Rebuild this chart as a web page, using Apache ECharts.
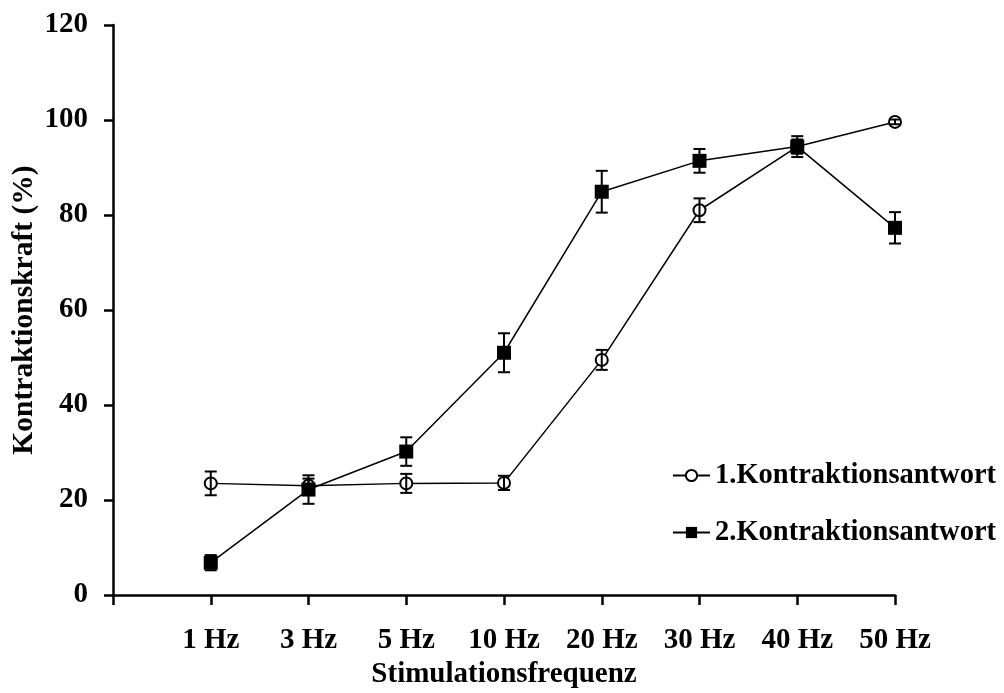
<!DOCTYPE html>
<html>
<head>
<meta charset="utf-8">
<script src="https://cdn.jsdelivr.net/npm/echarts@6/dist/echarts.min.js"></script>
<style>
  html, body { margin: 0; padding: 0; background: #fff; }
  #chart { width: 1004px; height: 693px; }
</style>
</head>
<body>
<div id="chart"></div>
<script>
// Stimulation frequencies (x categories)
const categories = ['1 Hz', '3 Hz', '5 Hz', '10 Hz', '20 Hz', '30 Hz', '40 Hz', '50 Hz'];
// First contraction response: mean and error (%)
const mean1 = [23.5, 23.0, 23.5, 23.6, 49.5, 81.0, 94.4, 99.6];
const err1  = [2.5, 1.5, 2.0, 1.5, 2.1, 2.5, 1.5, 0.5];
// Second contraction response: mean and error (%)
const mean2 = [6.8, 22.2, 30.2, 51.0, 84.9, 91.4, 94.4, 77.3];
const err2  = [1.6, 3.0, 3.0, 4.1, 4.4, 2.5, 2.2, 3.3];
const yTicks = [0, 20, 40, 60, 80, 100, 120];

const FONT = "'Liberation Serif', 'Times New Roman', serif";
const FS = 29;

function points(means) {
  return means.map((m, i) => [i + 1, m]);
}
function errData(means, errs) {
  return means.map((m, i) => [i + 1, m - errs[i], m + errs[i]]);
}
function renderErr(params, api) {
  const x = api.value(0);
  const lo = api.coord([x, api.value(1)]);
  const hi = api.coord([x, api.value(2)]);
  const cap = 6;
  const style = { stroke: '#000', lineWidth: 2 };
  return {
    type: 'group',
    children: [
      { type: 'line', shape: { x1: lo[0], y1: lo[1], x2: hi[0], y2: hi[1] }, style },
      { type: 'line', shape: { x1: lo[0] - cap, y1: lo[1], x2: lo[0] + cap, y2: lo[1] }, style },
      { type: 'line', shape: { x1: hi[0] - cap, y1: hi[1], x2: hi[0] + cap, y2: hi[1] }, style }
    ]
  };
}

const chart = echarts.init(document.getElementById('chart'), null, { renderer: 'canvas' });
chart.setOption({
  animation: false,
  backgroundColor: '#fff',
  textStyle: { fontFamily: FONT, color: '#000' },
  grid: { left: 113, right: 109, top: 25, bottom: 98, containLabel: false, outerBoundsMode: 'none' },
  legend: {
    orient: 'vertical',
    left: 667,
    top: 456,
    itemGap: 28,
    itemWidth: 37,
    itemHeight: 14,
    data: ['1.Kontraktionsantwort', '2.Kontraktionsantwort'],
    textStyle: { fontFamily: FONT, fontWeight: 'bold', fontSize: 28.5, color: '#000' }
  },
  xAxis: {
    type: 'value',
    min: 0,
    max: categories.length,
    interval: 1,
    name: 'Stimulationsfrequenz',
    nameLocation: 'middle',
    nameGap: 64,
    nameTextStyle: { fontFamily: FONT, fontWeight: 'bold', fontSize: FS, color: '#000' },
    axisLine: { lineStyle: { color: '#000', width: 2.5 } },
    axisTick: { length: 10, lineStyle: { color: '#000', width: 2.5 } },
    splitLine: { show: false },
    axisLabel: {
      margin: 31,
      fontFamily: FONT, fontWeight: 'bold', fontSize: FS, color: '#000',
      formatter: v => (v >= 1 && v <= categories.length) ? categories[v - 1] : ''
    }
  },
  yAxis: {
    type: 'value',
    min: yTicks[0],
    max: yTicks[yTicks.length - 1],
    interval: 20,
    name: 'Kontraktionskraft (%)',
    nameLocation: 'middle',
    nameGap: 74,
    nameMoveOverlap: false,
    nameTextStyle: { fontFamily: FONT, fontWeight: 'bold', fontSize: 29.5, color: '#000' },
    axisLine: { show: true, lineStyle: { color: '#000', width: 2.5 } },
    axisTick: { show: true, length: 9, lineStyle: { color: '#000', width: 2.5 } },
    splitLine: { show: false },
    axisLabel: {
      margin: 25,
      fontFamily: FONT, fontWeight: 'bold', fontSize: FS, color: '#000'
    }
  },
  series: [
    {
      name: '1.Kontraktionsantwort',
      type: 'line',
      data: points(mean1),
      symbol: 'emptyCircle',
      symbolSize: 12,
      itemStyle: { color: '#000', borderColor: '#000', borderWidth: 1.5 },
      lineStyle: { color: '#000', width: 1.5 },
      z: 3
    },
    {
      name: '2.Kontraktionsantwort',
      type: 'line',
      data: points(mean2),
      symbol: 'rect',
      symbolSize: 14,
      itemStyle: { color: '#000' },
      lineStyle: { color: '#000', width: 1.5 },
      z: 3
    },
    {
      type: 'custom',
      renderItem: renderErr,
      data: errData(mean1, err1),
      encode: { x: 0, y: [1, 2] },
      z: 4,
      silent: true
    },
    {
      type: 'custom',
      renderItem: renderErr,
      data: errData(mean2, err2),
      encode: { x: 0, y: [1, 2] },
      z: 4,
      silent: true
    }
  ]
});
</script>
</body>
</html>
